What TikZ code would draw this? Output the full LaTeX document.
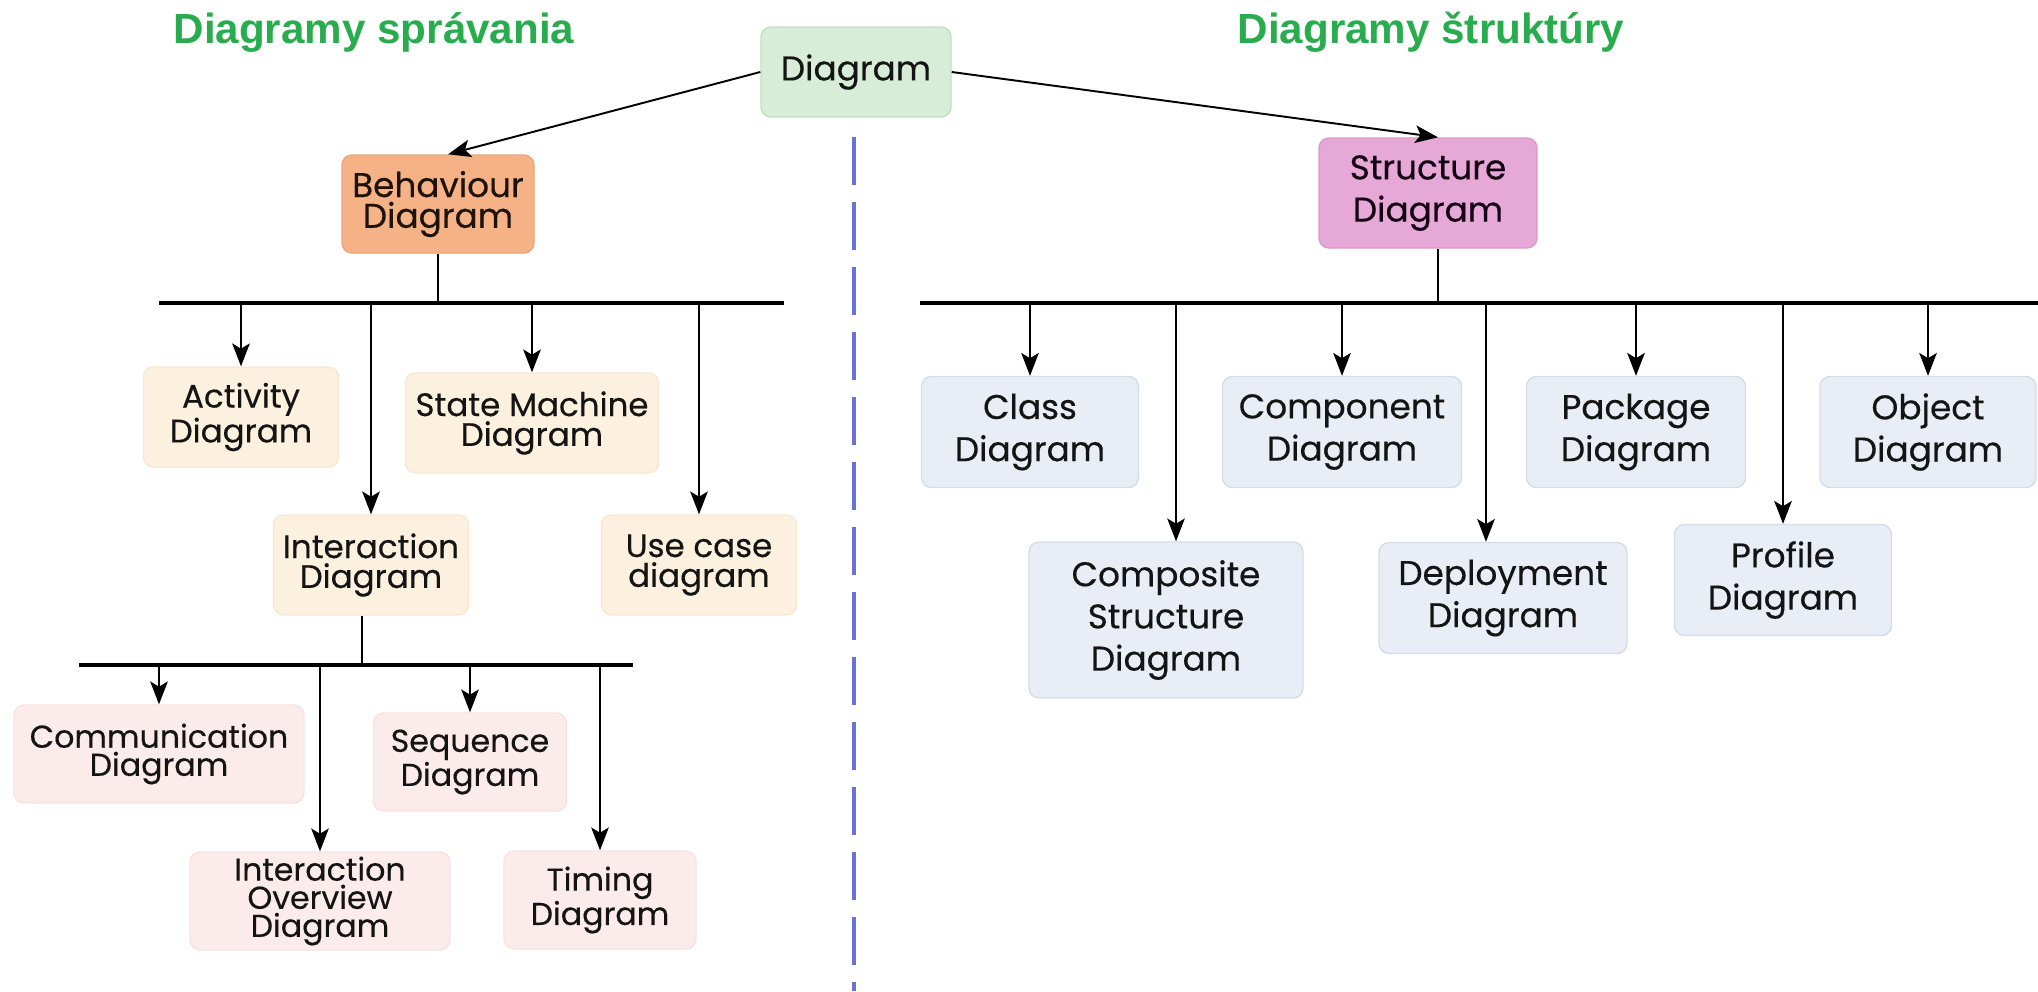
\documentclass[tikz,border=0pt]{standalone}
\usepackage{fontspec}
\setmainfont{Poppins}[FakeBold=0.35]
\newfontfamily\headfont{Liberation Sans}
\usepackage{tikz}
\usepackage{xcolor}
\usetikzlibrary{
    arrows.meta,
    positioning
}

\definecolor{rootfill}{RGB}{215,237,215}
\definecolor{rootline}{RGB}{192,222,192}
\definecolor{behfill}{RGB}{246,178,135}
\definecolor{behline}{RGB}{238,165,120}
\definecolor{strfill}{RGB}{230,168,214}
\definecolor{strline}{RGB}{218,152,202}
\definecolor{kidfill}{RGB}{252,241,222}
\definecolor{kidline}{RGB}{246,232,208}
\definecolor{intfill}{RGB}{252,235,235}
\definecolor{intline}{RGB}{247,226,226}
\definecolor{clsfill}{RGB}{233,238,246}
\definecolor{clsline}{RGB}{212,220,232}
\definecolor{headgreen}{RGB}{40,172,78}
\definecolor{splitblue}{RGB}{105,115,215}

\tikzset{
    box/.style={rounded corners=0.2cm, draw, line width=0.8pt, align=center,
        inner sep=0pt, text=black!92},
    rootbox/.style={box, fill=rootfill, draw=rootline, font=\fontsize{19.5}{22}\selectfont,
        minimum width=3.8cm, minimum height=1.8cm},
    behbox/.style={box, fill=behfill, draw=behline, text=black!85!brown,
        font=\fontsize{19.5}{17.5}\selectfont, minimum width=3.84cm, minimum height=1.96cm},
    strbox/.style={box, fill=strfill, draw=strline, text=black!85!violet,
        font=\fontsize{19.5}{24}\selectfont, minimum width=4.36cm, minimum height=2.2cm},
    behkid/.style={box, fill=kidfill, draw=kidline, font=\fontsize{18.5}{17}\selectfont,
        minimum height=2cm},
    intkid/.style={box, fill=intfill, draw=intline, font=\fontsize{18}{16}\selectfont,
        minimum height=1.96cm},
    strkid/.style={box, fill=clsfill, draw=clsline, font=\fontsize{19.5}{24}\selectfont,
        minimum height=2.22cm},
    head/.style={anchor=base, text=headgreen, font=\headfont\bfseries\fontsize{24}{24}\selectfont},
    link/.style={->, line width=1.1pt},
    bus/.style={line width=2.6pt},
    stem/.style={line width=1.5pt},
    >={Stealth[length=13pt, width=10pt, inset=3pt]}
}

\begin{document}
\begin{tikzpicture}
    \useasboundingbox (0, 0) rectangle (40.76, -19.82);

    % headings
    \node[head] (behhead) at (7.48, -0.86) {Diagramy správania};
    \node[head] (strhead) at (28.62, -0.86) {Diagramy štruktúry};

    % top level
    \node[rootbox] (diag) at (17.12, -1.44) {Diagram};
    \node[behbox] (behav) at (8.76, -4.08) {Behaviour\\Diagram};
    \node[strbox] (struct) at (28.56, -3.86) {Structure\\Diagram};

    \draw[link] (diag.west) -- ([xshift=0.2cm]behav.north);
    \draw[link] (diag.east) -- ([xshift=0.2cm]struct.north);

    % split line
    \coordinate (dtop) at (17.08, -2.74);
    \coordinate (dbot) at (17.08, -19.82);
    \draw[splitblue, line width=2.8pt, dash pattern=on 0.96cm off 0.34cm] (dtop) -- (dbot);

    % behaviour diagrams
    \node[behkid, minimum width=3.9cm] (act) at (4.82, -8.34) {Activity\\Diagram};
    \node[behkid, minimum width=5.06cm] (state) at (10.64, -8.46) {State Machine\\Diagram};
    \node[behkid, minimum width=3.9cm] (inter) at (7.42, -11.3) {Interaction\\Diagram};
    \node[behkid, minimum width=3.9cm] (usecase) at (13.98, -11.3) {Use case\\diagram};

    \coordinate (bl) at (3.18, -6.06);
    \coordinate (br) at (15.68, -6.06);
    \draw[bus] (bl) -- (br);
    \draw[stem] (behav.south) -- (behav.south |- bl);
    \foreach \n in {act, state, inter, usecase}
        \draw[link] (\n.north |- bl) -- (\n.north);

    % interaction diagrams
    \node[intkid, minimum width=5.8cm] (comm) at (3.18, -15.08) {Communication\\Diagram};
    \node[intkid, minimum width=3.86cm] (seq) at (9.4, -15.24) {Sequence\\Diagram};
    \node[intkid, minimum width=5.2cm] (iov) at (6.4, -18.02) {Interaction\\Overview\\Diagram};
    \node[intkid, minimum width=3.84cm] (timing) at (12.0, -18.0) {Timing\\Diagram};

    \coordinate (il) at (1.58, -13.3);
    \coordinate (ir) at (12.66, -13.3);
    \draw[bus] (il) -- (ir);
    \draw[stem] ([xshift=-0.18cm]inter.south) -- ([xshift=-0.18cm]inter.south |- il);
    \foreach \n in {comm, seq, iov, timing}
        \draw[link] (\n.north |- il) -- (\n.north);

    % structure diagrams
    \node[strkid, minimum width=4.34cm] (class) at (20.6, -8.64) {Class\\Diagram};
    \node[strkid, minimum width=4.78cm] (comp) at (26.84, -8.64) {Component\\Diagram};
    \node[strkid, minimum width=4.38cm] (pack) at (32.72, -8.64) {Package\\Diagram};
    \node[strkid, minimum width=4.32cm] (obj) at (38.56, -8.64) {Object\\Diagram};
    \node[strkid, minimum width=5.48cm, minimum height=3.12cm] (compo) at (23.32, -12.4) {Composite\\Structure\\Diagram};
    \node[strkid, minimum width=4.96cm] (deploy) at (30.06, -11.96) {Deployment\\Diagram};
    \node[strkid, minimum width=4.34cm] (profile) at (35.66, -11.6) {Profile\\Diagram};

    \coordinate (sl) at (18.4, -6.06);
    \coordinate (sr) at (40.76, -6.06);
    \draw[bus] (sl) -- (sr);
    \draw[stem] ([xshift=0.2cm]struct.south) -- ([xshift=0.2cm]struct.south |- sl);
    \foreach \n in {class, comp, pack, obj, profile}
        \draw[link] (\n.north |- sl) -- (\n.north);
    \draw[link] ([xshift=0.2cm]compo.north |- sl) -- ([xshift=0.2cm]compo.north);
    \draw[link] ([xshift=-0.34cm]deploy.north |- sl) -- ([xshift=-0.34cm]deploy.north);
\end{tikzpicture}
\end{document}
